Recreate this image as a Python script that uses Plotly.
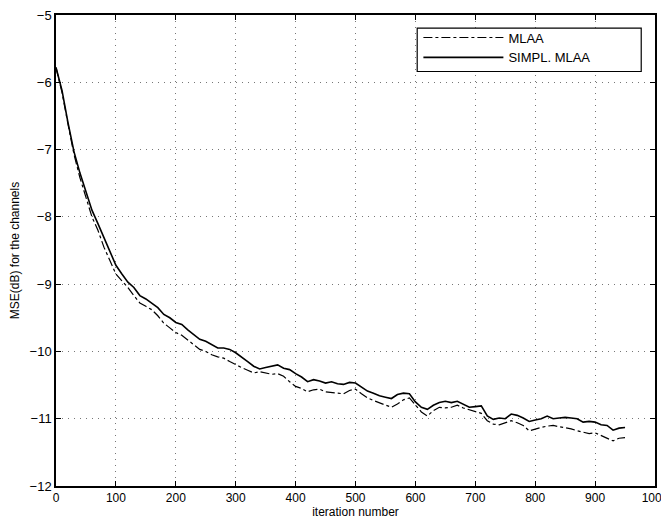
import plotly.graph_objects as go

iterations = list(range(0, 951, 10))

simpl_mlaa = [
    -5.78, -6.12, -6.60, -7.03, -7.35, -7.62, -7.90, -8.10, -8.30, -8.50,
    -8.72, -8.85, -8.97, -9.05, -9.17, -9.22, -9.28, -9.35, -9.45, -9.50,
    -9.57, -9.60, -9.68, -9.75, -9.82, -9.85, -9.90, -9.95, -9.95, -9.97,
    -10.02, -10.08, -10.15, -10.22, -10.26, -10.24, -10.22, -10.20, -10.25, -10.27,
    -10.33, -10.38, -10.45, -10.42, -10.44, -10.47, -10.45, -10.48, -10.49, -10.46,
    -10.47, -10.53, -10.59, -10.62, -10.66, -10.68, -10.70, -10.64, -10.62, -10.63,
    -10.75, -10.83, -10.86, -10.80, -10.76, -10.74, -10.76, -10.74, -10.78, -10.83,
    -10.82, -10.81, -10.96, -11.01, -10.99, -11.00, -10.93, -10.95, -10.99, -11.04,
    -11.02, -11.00, -10.96, -11.00, -10.99, -10.98, -10.99, -11.00, -11.05, -11.04,
    -11.05, -11.09, -11.10, -11.17, -11.14, -11.13,
]

mlaa = [
    -5.78, -6.15, -6.62, -7.07, -7.42, -7.70, -8.00, -8.20, -8.45, -8.65,
    -8.85, -8.95, -9.05, -9.17, -9.28, -9.33, -9.38, -9.47, -9.58, -9.65,
    -9.72, -9.76, -9.83, -9.90, -9.97, -10.00, -10.05, -10.08, -10.10, -10.15,
    -10.20, -10.24, -10.28, -10.32, -10.30, -10.32, -10.34, -10.33, -10.37, -10.45,
    -10.52, -10.55, -10.60, -10.57, -10.56, -10.60, -10.61, -10.62, -10.63, -10.58,
    -10.56, -10.63, -10.69, -10.73, -10.76, -10.80, -10.83, -10.78, -10.72, -10.69,
    -10.80, -10.90, -10.96, -10.88, -10.83, -10.84, -10.83, -10.80, -10.84, -10.87,
    -10.90, -10.92, -11.03, -11.08, -11.09, -11.06, -11.03, -11.06, -11.10, -11.18,
    -11.15, -11.13, -11.11, -11.10, -11.12, -11.13, -11.15, -11.18, -11.20, -11.22,
    -11.21, -11.25, -11.28, -11.33, -11.29, -11.28,
]

x_ticks = list(range(0, 1001, 100))
y_ticks = list(range(-12, -4))

FONT = "Liberation Sans, Arial, sans-serif"

fig = go.Figure()
fig.add_trace(go.Scatter(
    x=iterations, y=mlaa, mode="lines", name="MLAA",
    line=dict(color="black", width=1.2, dash="dashdot"),
))
fig.add_trace(go.Scatter(
    x=iterations, y=simpl_mlaa, mode="lines", name="SIMPL. MLAA",
    line=dict(color="black", width=1.6),
))

axis_common = dict(
    showline=True, linecolor="black", linewidth=1.5, mirror="ticks",
    ticks="inside", ticklen=5, tickcolor="black", tickwidth=1,
    showgrid=True, gridcolor="#777", gridwidth=1, griddash="1px,5px",
    zeroline=False, automargin=False, ticklabeloverflow="allow",
)

fig.update_xaxes(
    range=[0, 1000], tickvals=x_ticks,
    tickfont=dict(family=FONT, size=12, color="black"),
    title=dict(text="iteration number", standoff=2,
               font=dict(family=FONT, size=12, color="black")),
    **axis_common,
)
fig.update_yaxes(
    range=[-12, -5], tickvals=y_ticks,
    tickfont=dict(family=FONT, size=13, color="black"),
    title=dict(text="MSE(dB) for the channels", standoff=8,
               font=dict(family=FONT, size=12, color="black")),
    **axis_common,
)

# legend frame (white box with black border, behind the legend entries)
fig.add_shape(
    type="rect", xref="paper", yref="paper",
    x0=0.603, x1=0.977, y0=0.880, y1=0.972,
    line=dict(color="black", width=1.2), fillcolor="white", layer="above",
)

fig.update_layout(
    width=669, height=519,
    margin=dict(l=48, r=22, t=7, b=41, autoexpand=False),
    paper_bgcolor="white", plot_bgcolor="white",
    showlegend=True,
    legend=dict(
        x=0.605, y=0.984, xanchor="left", yanchor="top",
        bgcolor="rgba(0,0,0,0)", borderwidth=0,
        font=dict(family=FONT, size=13, color="black"),
        tracegroupgap=0, itemwidth=80,
    ),
)

fig.write_html("out.html")
